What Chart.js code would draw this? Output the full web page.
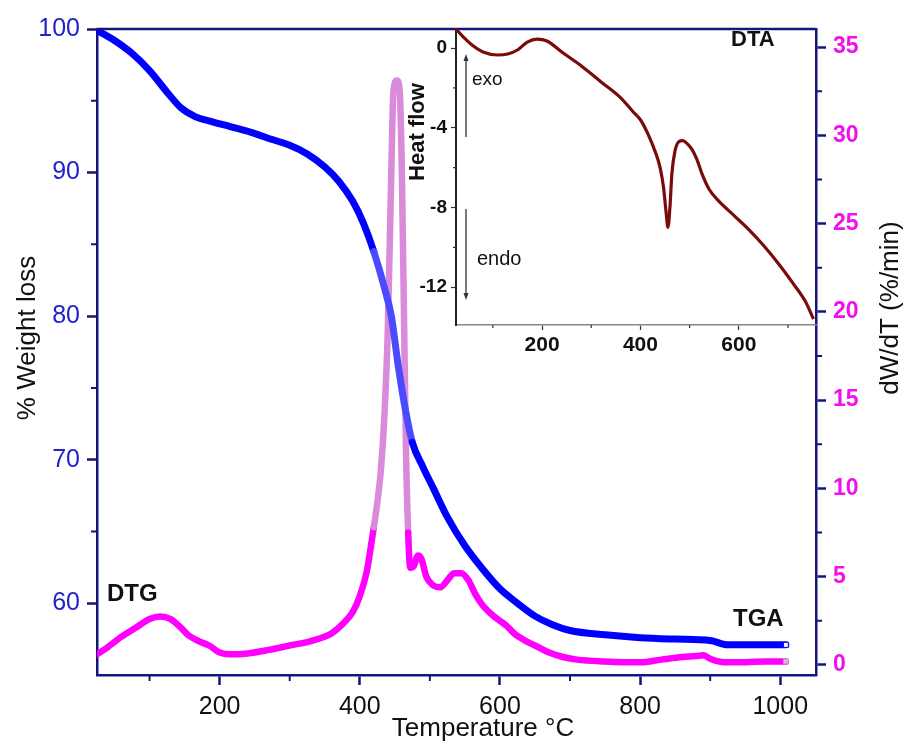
<!DOCTYPE html>
<html lang="en">
<head>
<meta charset="UTF-8" />
<title>TGA / DTG / DTA</title>
<script src="https://cdn.jsdelivr.net/npm/chart.js@4.4.1/dist/chart.umd.min.js"></script>
<style>
  html, body { margin: 0; padding: 0; background: #fff; }
  #wrap { position: relative; width: 907px; height: 748px; }
  #mainChart { position: absolute; left: 0; top: 0; }
  #insetChart { position: absolute; left: 370px; top: 0; }
</style>
</head>
<body>
<div id="wrap">
  <canvas id="mainChart" width="907" height="748"></canvas>
  <canvas id="insetChart" width="460" height="370"></canvas>
</div>
<script>
// TGA curve (left axis, % weight)
const tgaTemp   = [25, 50, 75, 100, 125, 145, 165, 185, 215, 245, 275, 300, 325, 350, 370, 390, 405, 420, 435, 445, 455, 465, 475, 490, 505, 525, 550, 575, 600, 625, 650, 675, 700, 750, 800, 850, 900, 925, 1008];
const tgaWeight = [99.9, 99.2, 98.3, 97.1, 95.6, 94.5, 93.9, 93.6, 93.2, 92.8, 92.3, 91.9, 91.3, 90.4, 89.4, 88.0, 86.5, 84.5, 82.0, 80.0, 76.5, 73.5, 71.2, 69.5, 68.0, 66.0, 64.0, 62.4, 61.0, 60.0, 59.1, 58.5, 58.1, 57.8, 57.6, 57.5, 57.4, 57.1, 57.1];

// DTG curve (right axis, %/min)
const dtgTemp = [25, 40, 60, 80, 100, 115, 130, 145, 155, 170, 185, 200, 215, 240, 270, 300, 330, 360, 380, 390, 400, 410, 415, 420, 425, 430, 435, 440, 445, 448, 453, 457, 460, 463, 466, 469, 472, 477, 483, 488, 495, 505, 515, 525, 535, 545, 555, 565, 575, 590, 600, 610, 620, 635, 650, 670, 690, 710, 750, 800, 830, 860, 880, 890, 900, 920, 950, 980, 1008];
const dtgRate = [0.6, 1.0, 1.6, 2.1, 2.6, 2.75, 2.6, 2.1, 1.7, 1.35, 1.1, 0.7, 0.6, 0.65, 0.85, 1.1, 1.35, 1.8, 2.5, 3.0, 3.9, 5.3, 6.5, 7.8, 9.2, 11, 14, 19, 28, 32.5, 33.1, 32.5, 28, 20, 12, 7.5, 5.5, 5.6, 6.2, 6.0, 5.0, 4.5, 4.4, 4.8, 5.2, 5.2, 4.8, 4.0, 3.4, 2.8, 2.5, 2.2, 1.8, 1.4, 1.1, 0.7, 0.45, 0.3, 0.2, 0.15, 0.3, 0.45, 0.5, 0.55, 0.35, 0.15, 0.15, 0.2, 0.2];

// DTA curve (inset)
const dtaTemp = [25, 40, 55, 80, 110, 130, 150, 170, 190, 210, 240, 280, 320, 360, 385, 400, 415, 430, 440, 447, 452, 456, 460, 464, 470, 478, 486, 495, 505, 515, 525, 540, 560, 590, 620, 650, 680, 710, 735, 752];
const dtaHeat = [0.95, 0.55, 0.2, -0.2, -0.35, -0.3, -0.1, 0.3, 0.45, 0.35, -0.2, -0.9, -1.7, -2.5, -3.2, -3.6, -4.3, -5.2, -6.0, -7.0, -8.2, -9.0, -8.0, -6.3, -5.2, -4.7, -4.65, -4.8, -5.1, -5.6, -6.3, -7.1, -7.7, -8.4, -9.1, -9.9, -10.8, -11.8, -12.7, -13.6];

// tick values
const tempTicks = [200, 400, 600, 800, 1000];
const tempMinor = [100, 300, 500, 700, 900];
const weightTicks = [60, 70, 80, 90, 100];
const weightMinor = [65, 75, 85, 95];
const rateTicks = [0, 5, 10, 15, 20, 25, 30, 35];
const rateMinor = [2.5, 7.5, 12.5, 17.5, 22.5, 27.5, 32.5];
const dtaTempTicks = [200, 400, 600];
const dtaTempMinor = [100, 300, 500, 700];
const heatTicks = [-12, -8, -4, 0];
const heatMinor = [-10, -6, -2];

const FONT = "'Liberation Sans', Arial, sans-serif";
const NAVY = '#15157a';

const pts = (xs, ys) => xs.map((x, i) => ({ x: x, y: ys[i] }));
const setTicks = list => scale => { scale.ticks = list.map(v => ({ value: v })); };

// short minor ticks, drawn on the library's scales
const minorTicks = {
    id: 'minorTicks',
    afterDraw(chart, args, opts) {
        const ctx = chart.ctx;
        (opts.list || []).forEach(m => {
            const s = chart.scales[m.axis];
            ctx.save();
            ctx.strokeStyle = m.color;
            ctx.lineWidth = m.width;
            ctx.beginPath();
            m.values.forEach(v => {
                const p = s.getPixelForValue(v);
                if (s.isHorizontal()) {
                    ctx.moveTo(p, s.top); ctx.lineTo(p, s.top + m.len);
                } else if (s.position === 'left') {
                    ctx.moveTo(s.right, p); ctx.lineTo(s.right - m.len, p);
                } else {
                    ctx.moveTo(s.left, p); ctx.lineTo(s.left + m.len, p);
                }
            });
            ctx.stroke();
            ctx.restore();
        });
    }
};

// titles, labels, arrows and top frame line
const textLayer = {
    id: 'textLayer',
    afterDraw(chart, args, opts) {
        const ctx = chart.ctx;
        if (opts.frameTop) {
            const a = chart.chartArea;
            ctx.save();
            ctx.strokeStyle = NAVY; ctx.lineWidth = 2.5;
            ctx.beginPath(); ctx.moveTo(a.left, a.top); ctx.lineTo(a.right, a.top); ctx.stroke();
            ctx.restore();
        }
        (opts.items || []).forEach(t => {
            ctx.save();
            ctx.font = t.font;
            ctx.fillStyle = t.color || '#111';
            ctx.textAlign = t.align || 'center';
            ctx.textBaseline = t.baseline || 'middle';
            ctx.translate(t.x, t.y);
            if (t.rot) ctx.rotate(t.rot);
            ctx.fillText(t.text, 0, 0);
            ctx.restore();
        });
        (opts.arrows || []).forEach(a => {
            const dir = a.y1 < a.y0 ? -1 : 1;
            ctx.save();
            ctx.strokeStyle = '#333'; ctx.fillStyle = '#333'; ctx.lineWidth = 1.3;
            ctx.beginPath(); ctx.moveTo(a.x, a.y0); ctx.lineTo(a.x, a.y1 - dir * 5); ctx.stroke();
            ctx.beginPath();
            ctx.moveTo(a.x, a.y1);
            ctx.lineTo(a.x - 2.5, a.y1 - dir * 7);
            ctx.lineTo(a.x + 2.5, a.y1 - dir * 7);
            ctx.closePath(); ctx.fill();
            ctx.restore();
        });
    }
};

const slope = c => Math.abs((c.p1.parsed.y - c.p0.parsed.y) / (c.p1.parsed.x - c.p0.parsed.x));

new Chart(document.getElementById('mainChart'), {
    type: 'line',
    data: {
        datasets: [
            {
                label: 'TGA',
                data: pts(tgaTemp, tgaWeight),
                yAxisID: 'y',
                borderColor: '#0000ff',
                borderWidth: 7,
                borderCapStyle: 'round',
                borderJoinStyle: 'round',
                cubicInterpolationMode: 'monotone',
                segment: { borderColor: c => slope(c) > 0.15 ? '#4a4aff' : undefined },
                pointStyle: 'rect',
                pointRadius: c => c.dataIndex === tgaTemp.length - 1 ? 3.5 : 0,
                pointBackgroundColor: '#fff',
                pointBorderColor: '#0000ff',
                pointBorderWidth: 1
            },
            {
                label: 'DTG',
                data: pts(dtgTemp, dtgRate),
                yAxisID: 'y2',
                borderColor: '#ff00ff',
                borderWidth: 6.5,
                borderCapStyle: 'round',
                borderJoinStyle: 'round',
                cubicInterpolationMode: 'monotone',
                segment: { borderColor: c => (c.p0.parsed.y > 6.5 && c.p1.parsed.y > 6.5) ? '#d98ad9' : undefined },
                pointStyle: 'rect',
                pointRadius: c => c.dataIndex === dtgTemp.length - 1 ? 3.5 : 0,
                pointBackgroundColor: '#d8b8d8',
                pointBorderColor: '#c090c0',
                pointBorderWidth: 1
            }
        ]
    },
    options: {
        responsive: false,
        animation: false,
        events: [],
        layout: { padding: { top: 29, left: 0, right: 0, bottom: 0 } },
        plugins: {
            legend: { display: false },
            tooltip: { enabled: false },
            minorTicks: {
                list: [
                    { axis: 'x', values: tempMinor, len: 6, color: NAVY, width: 2 },
                    { axis: 'y', values: weightMinor, len: 6, color: NAVY, width: 2 },
                    { axis: 'y2', values: rateMinor, len: 6, color: NAVY, width: 2 }
                ]
            },
            textLayer: {
                frameTop: true,
                items: [
                    { text: '% Weight loss', font: '26px ' + FONT, x: 28, y: 338, rot: -Math.PI / 2 },
                    { text: 'dW/dT (%/min)', font: '26px ' + FONT, x: 891, y: 308, rot: -Math.PI / 2 },
                    { text: 'Temperature °C', font: '26px ' + FONT, x: 483, y: 729 },
                    { text: 'DTG', font: 'bold 24px ' + FONT, x: 107, y: 594, align: 'left' },
                    { text: 'TGA', font: 'bold 24px ' + FONT, x: 733, y: 619, align: 'left' }
                ]
            }
        },
        scales: {
            x: {
                type: 'linear', position: 'bottom', min: 25, max: 1051,
                afterBuildTicks: setTicks(tempTicks),
                afterFit: s => { s.height = 73; },
                grid: { drawOnChartArea: false, tickLength: 10, tickColor: NAVY, tickWidth: 2.5 },
                border: { color: NAVY, width: 2.5 },
                ticks: { color: '#111', font: { family: FONT, size: 25 }, padding: 7, maxRotation: 0, autoSkip: false, callback: v => String(v) }
            },
            y: {
                type: 'linear', position: 'left', min: 55, max: 100,
                afterBuildTicks: setTicks(weightTicks),
                afterFit: s => { s.width = 97; },
                grid: { drawOnChartArea: false, tickLength: 10, tickColor: NAVY, tickWidth: 2.5 },
                border: { color: NAVY, width: 2.5 },
                ticks: { color: '#2222cc', font: { family: FONT, size: 25 }, padding: 7, autoSkip: false, callback: v => String(v) }
            },
            y2: {
                type: 'linear', position: 'right', min: -0.57, max: 36.02,
                afterBuildTicks: setTicks(rateTicks),
                afterFit: s => { s.width = 91; },
                grid: { drawOnChartArea: false, tickLength: 10, tickColor: NAVY, tickWidth: 2.5 },
                border: { color: NAVY, width: 2.5 },
                ticks: { color: '#ee11ee', font: { family: FONT, size: 23, weight: 'bold' }, padding: 7, autoSkip: false, callback: v => String(v) }
            }
        }
    },
    plugins: [minorTicks, textLayer]
});

new Chart(document.getElementById('insetChart'), {
    type: 'line',
    data: {
        datasets: [{
            label: 'DTA',
            data: pts(dtaTemp, dtaHeat),
            borderColor: '#7a0b0b',
            borderWidth: 3.2,
            cubicInterpolationMode: 'monotone',
            pointRadius: 0
        }]
    },
    options: {
        responsive: false,
        animation: false,
        events: [],
        layout: { padding: { top: 29, left: 0, right: 14, bottom: 0 } },
        plugins: {
            legend: { display: false },
            tooltip: { enabled: false },
            minorTicks: {
                list: [
                    { axis: 'x', values: dtaTempMinor, len: 3, color: '#333', width: 1.2 },
                    { axis: 'y', values: heatMinor, len: 3, color: '#333', width: 1.2 }
                ]
            },
            textLayer: {
                items: [
                    { text: 'Heat flow', font: 'bold 22px ' + FONT, x: 48, y: 132, rot: -Math.PI / 2 },
                    { text: 'DTA', font: 'bold 22px ' + FONT, x: 361, y: 40, align: 'left' },
                    { text: 'exo', font: '19px ' + FONT, x: 102, y: 85, align: 'left', baseline: 'alphabetic' },
                    { text: 'endo', font: '20px ' + FONT, x: 107, y: 265, align: 'left', baseline: 'alphabetic' }
                ],
                arrows: [
                    { x: 96, y0: 137, y1: 54 },
                    { x: 96, y0: 209, y1: 300 }
                ]
            }
        },
        scales: {
            x: {
                type: 'linear', min: 25, max: 757,
                afterBuildTicks: setTicks(dtaTempTicks),
                afterFit: s => { s.height = 45; },
                grid: { drawOnChartArea: false, tickLength: 5, tickColor: '#333', tickWidth: 1.2 },
                border: { color: '#888', width: 1.5 },
                ticks: { color: '#111', font: { family: FONT, size: 21, weight: 'bold' }, padding: 3, maxRotation: 0, autoSkip: false, callback: v => String(v) }
            },
            y: {
                type: 'linear', min: -13.9, max: 0.954,
                afterBuildTicks: setTicks(heatTicks),
                afterFit: s => { s.width = 86; },
                grid: { drawOnChartArea: false, tickLength: 5, tickColor: '#333', tickWidth: 1.2 },
                border: { color: '#222', width: 2 },
                ticks: { color: '#111', font: { family: FONT, size: 19, weight: 'bold' }, padding: 4, autoSkip: false, callback: v => String(v) }
            }
        }
    },
    plugins: [minorTicks, textLayer]
});
</script>
</body>
</html>
